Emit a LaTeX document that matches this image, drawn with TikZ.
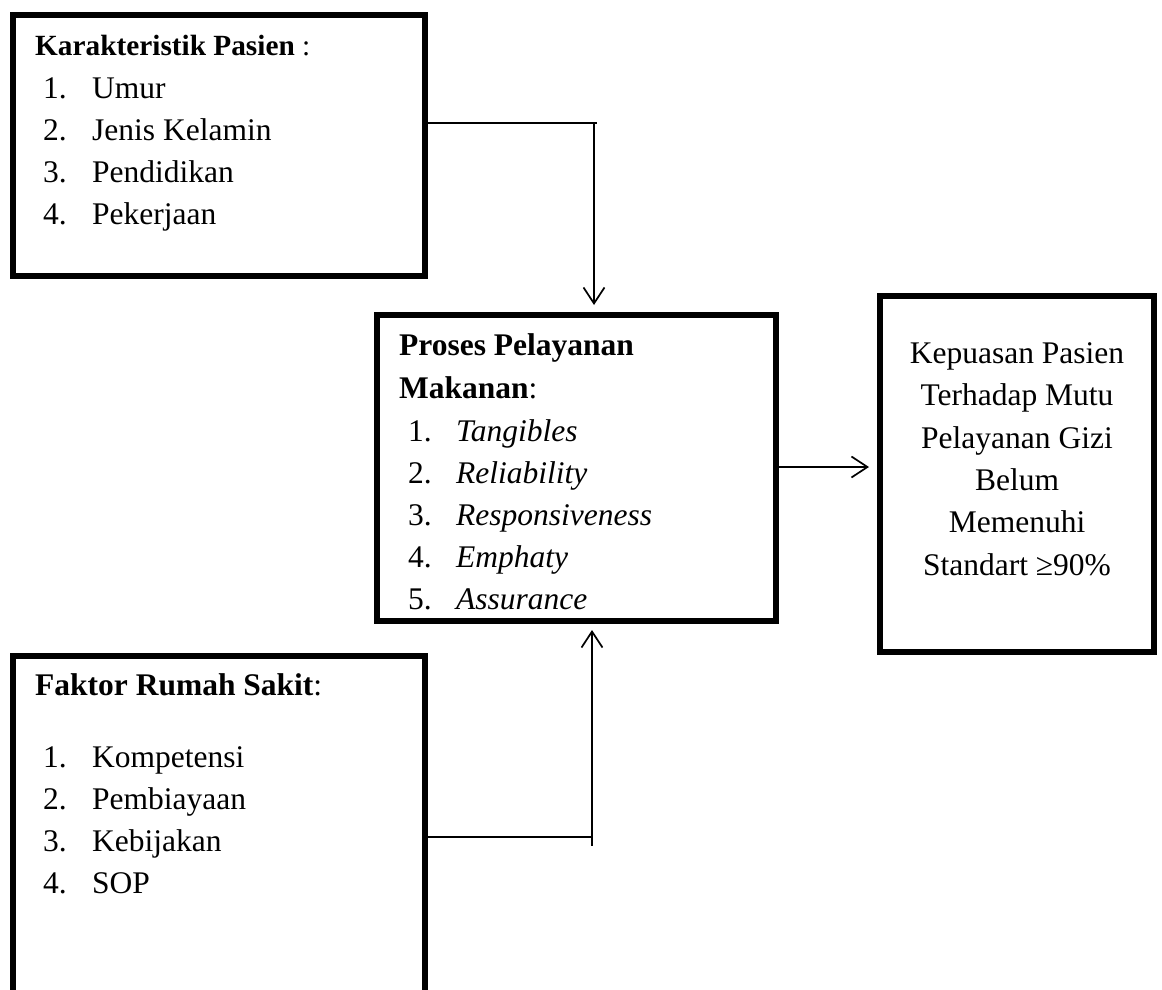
\documentclass[tikz,border=0pt]{standalone}
\usepackage{fontspec}
\setmainfont{Liberation Serif}
\usetikzlibrary{arrows.meta}
\tikzset{
  box/.style={draw, line width=5.5pt, inner sep=0pt, outer sep=0pt},
  txt/.style={anchor=base west, inner sep=0pt, font=\fontsize{31.5}{42}\selectfont},
  hd/.style={anchor=base west, inner sep=0pt, font=\fontsize{31.5}{42}\selectfont},
  hdsmall/.style={anchor=base west, inner sep=0pt, font=\fontsize{29.3}{40}\selectfont},
  ctxt/.style={anchor=base, inner sep=0pt, font=\fontsize{31.5}{42}\selectfont},
  conn/.style={line width=1.7pt},
  arr/.style={conn, -{Straight Barb[length=16pt,width=21pt]}}
}
\begin{document}
\begin{tikzpicture}[x=1pt,y=-1pt]
\useasboundingbox (0,0) rectangle (1162,990);
\path[clip] (0,0) rectangle (1162,990);
% boxes
\node[box, minimum width=412pt, minimum height=261pt] (b1) at (219,145.5) {};
\node[box, minimum width=399pt, minimum height=306pt] (b2) at (576.5,468) {};
\node[box, minimum width=274pt, minimum height=356pt] (b3) at (1017,474) {};
\node[box, minimum width=412pt, minimum height=364pt] (b4) at (219,838) {};
% box 1 text
\node[hdsmall] (h1) at (35,56) {\textbf{Karakteristik Pasien} :};
\node[txt] (n11) at (43,98) {1.};   \node[txt] (t11) at (92,98) {Umur};
\node[txt] (n12) at (43,140) {2.};  \node[txt] (t12) at (92,140) {Jenis Kelamin};
\node[txt] (n13) at (43,182) {3.};  \node[txt] (t13) at (92,182) {Pendidikan};
\node[txt] (n14) at (43,224) {4.};  \node[txt] (t14) at (92,224) {Pekerjaan};
% box 2 text
\node[hd] (h2a) at (399,355) {\textbf{Proses Pelayanan}};
\node[hd] (h2b) at (399,398) {\textbf{Makanan}:};
\node[txt] (n21) at (408,441) {1.}; \node[txt] (t21) at (456,441) {\textit{Tangibles}};
\node[txt] (n22) at (408,483) {2.}; \node[txt] (t22) at (456,483) {\textit{Reliability}};
\node[txt] (n23) at (408,525) {3.}; \node[txt] (t23) at (456,525) {\textit{Responsiveness}};
\node[txt] (n24) at (408,567) {4.}; \node[txt] (t24) at (456,567) {\textit{Emphaty}};
\node[txt] (n25) at (408,609) {5.}; \node[txt] (t25) at (456,609) {\textit{Assurance}};
% box 3 text
\node[ctxt] (t31) at (1017,363) {Kepuasan Pasien};
\node[ctxt] (t32) at (1017,405.5) {Terhadap Mutu};
\node[ctxt] (t33) at (1017,448) {Pelayanan Gizi};
\node[ctxt] (t34) at (1017,490) {Belum};
\node[ctxt] (t35) at (1017,532.5) {Memenuhi};
\node[ctxt] (t36) at (1017,575) {Standart ≥90\%};
% box 4 text
\node[hd] (h4) at (35,695) {\textbf{Faktor Rumah Sakit}:};
\node[txt] (n41) at (43,767) {1.}; \node[txt] (t41) at (92,767) {Kompetensi};
\node[txt] (n42) at (43,809) {2.}; \node[txt] (t42) at (92,809) {Pembiayaan};
\node[txt] (n43) at (43,851) {3.}; \node[txt] (t43) at (92,851) {Kebijakan};
\node[txt] (n44) at (43,893) {4.}; \node[txt] (t44) at (92,893) {SOP};
% connectors
\coordinate (k1) at (594,123);
\coordinate (k2) at (592,837);
\coordinate (k3) at (700,467);
\draw[conn] (b1.east |- k1) -- ([xshift=3pt]k1);
\draw[arr, shorten >=10pt] (k1) -- (k1 |- b2.north);
\draw[conn] (b4.east |- k2) -- (k2) -- ([yshift=-9pt]k2);
\draw[arr, shorten >=9pt] (k2) -- (k2 |- b2.south);
\draw[arr, shorten >=11pt] (b2.east |- k3) -- (b3.west |- k3);
\end{tikzpicture}
\end{document}
